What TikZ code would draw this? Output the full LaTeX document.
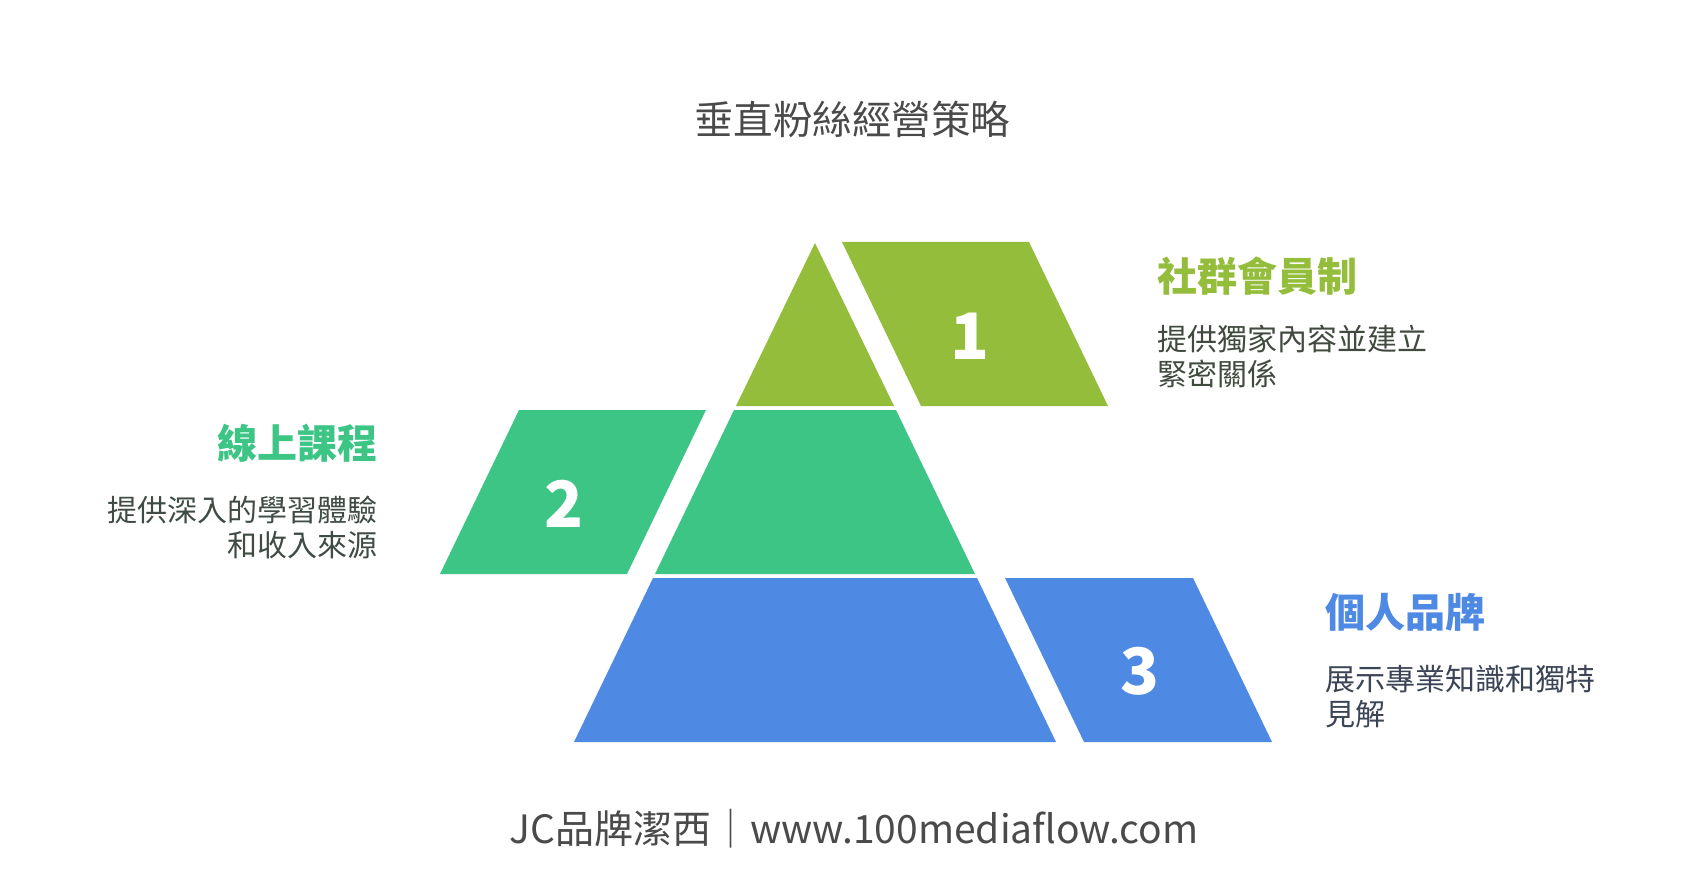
\documentclass[tikz,border=0pt]{standalone}
\usepackage{fontspec}
\setmainfont{Noto Sans CJK TC}
\usetikzlibrary{positioning}
\definecolor{TopGreen}{HTML}{93BD3A}
\definecolor{MidGreen}{HTML}{3DC585}
\definecolor{LowBlue}{HTML}{4E89E4}
\definecolor{TopText}{HTML}{414A3F}
\definecolor{MidText}{HTML}{3E4C44}
\definecolor{LowText}{HTML}{3C4555}
\definecolor{Caption}{HTML}{4A4A4A}
\newcommand{\Slab}[5]{
\fill[#1] (#2)--(#3)--(#4)--(#5)--cycle;
}

\begin{document}
\begin{tikzpicture}[x=1pt, y=-1pt,
heading/.style={inner sep=0, font=\fontsize{40}{44}\selectfont\bfseries},
desc/.style={inner sep=0, font=\fontsize{30}{35}\selectfont},
number/.style={inner sep=0, text=white, font=\fontsize{64}{64}\selectfont\bfseries},
]

%%%%%%%%%%%%%%%%%%%%%%%% SIZE OF THE PICTURE %%%%%%%%%%%%%%%%%%%%%%%%
\fill[white] (0,0) rectangle (1704,874);
\useasboundingbox (0,0) rectangle (1704,874);

\node[inner sep=0, text=Caption, font=\fontsize{39.5}{40}\selectfont] (Title) at (852,119) {垂直粉絲經營策略}; %%%%%%% TITLE

%%%%%%%%%%%%%%%%%%%%%%%% PYRAMID %%%%%%%%%%%%%%%%%%%%%%%%
\coordinate (Apex) at (815,243);
\coordinate (T1L) at (736,406);
\coordinate (T1R) at (894,406);
\coordinate (M1L) at (734,410);
\coordinate (M1R) at (896,410);
\coordinate (M2L) at (655,574);
\coordinate (M2R) at (975,574);
\coordinate (B1L) at (653,578);
\coordinate (B1R) at (977,578);
\coordinate (B2L) at (574,742);
\coordinate (B2R) at (1056,742);

\fill[TopGreen] (Apex)--(T1R)--(T1L)--cycle;
\Slab{MidGreen}{M1L}{M1R}{M2R}{M2L}
\Slab{LowBlue}{B1L}{B1R}{B2R}{B2L}

%%%%%%%%%%%%%%%%%%%%%%%% SIDE BLOCKS %%%%%%%%%%%%%%%%%%%%%%%%
\coordinate (P1a) at (842,242);
\coordinate (P1b) at (1029,242);
\coordinate (P1c) at (1108,406);
\coordinate (P1d) at (921,406);
\Slab{TopGreen}{P1a}{P1b}{P1c}{P1d}

\coordinate (P2a) at (519,410);
\coordinate (P2b) at (706,410);
\coordinate (P2c) at (627,574);
\coordinate (P2d) at (440,574);
\Slab{MidGreen}{P2a}{P2b}{P2c}{P2d}

\coordinate (P3a) at (1005,578);
\coordinate (P3b) at (1193,578);
\coordinate (P3c) at (1272,742);
\coordinate (P3d) at (1084,742);
\Slab{LowBlue}{P3a}{P3b}{P3c}{P3d}

\node[number] (One) at (970,336) {1};
\node[number] (Two) at (564,504) {2};
\node[number] (Three) at (1140,671) {3};

%%%%%%%%%%%%%%%%%%%%%%%% TEXT %%%%%%%%%%%%%%%%%%%%%%%%
\node[heading, text=TopGreen, anchor=west] (Club) at (1157,276) {社群會員制};
\node[desc, text=TopText, anchor=west, align=left] (ClubText) at (1157,357) {提供獨家內容並建立\\緊密關係};

\node[heading, text=MidGreen, anchor=east] (Course) at (378,443) {線上課程};
\node[desc, text=MidText, anchor=east, align=right] (CourseText) at (378,527) {提供深入的學習體驗\\和收入來源};

\node[heading, text=LowBlue, anchor=west] (Brand) at (1325,612) {個人品牌};
\node[desc, text=LowText, anchor=west, align=left] (BrandText) at (1325,697) {展示專業知識和獨特\\見解};

\node[inner sep=0, text=Caption, font=\fontsize{39}{40}\selectfont] (Footer) at (854,829) {JC品牌潔西｜www.100mediaflow.com};

\end{tikzpicture}
\end{document}
